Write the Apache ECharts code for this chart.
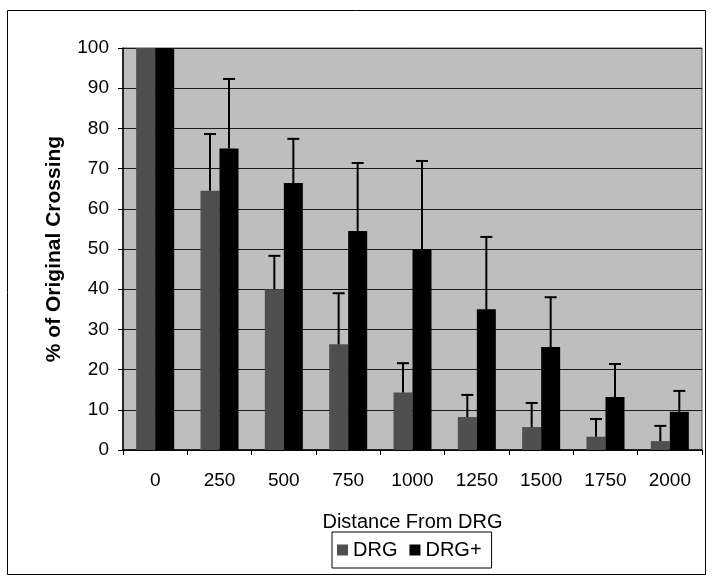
<!DOCTYPE html>
<html>
<head>
<meta charset="utf-8">
<script src="https://cdn.jsdelivr.net/npm/echarts@6/dist/echarts.min.js"></script>
<style>
  html, body { margin: 0; padding: 0; background: #fff; }
  #chart { width: 712px; height: 580px; }
</style>
</head>
<body>
<div id="chart"></div>
<script>
  // distances (categories)
  const distances = ['0', '250', '500', '750', '1000', '1250', '1500', '1750', '2000']
  // mean % of original crossing
  const drgValues = [100, 64.5, 40, 26.3, 14.3, 8.2, 5.7, 3.3, 2.2]
  const drgPlusValues = [100, 75, 66.4, 54.5, 50, 35, 25.6, 13.2, 9.5]
  // upper end of error bars (0 has none)
  const drgErrTop = [null, 78.6, 48.3, 39, 21.6, 13.7, 11.7, 7.7, 6]
  const drgPlusErrTop = [null, 92.3, 77.4, 71.4, 71.9, 53, 38, 21.4, 14.7]

  const font = 'Liberation Sans, Arial, sans-serif'
  const barW = 19

  function errData (vals, tops) {
    let res = []
    for (let i = 0; i < vals.length; i++) {
      if (tops[i] != null) res.push([i, vals[i], tops[i]])
    }
    return res
  }

  function errRender (offset) {
    return function (params, api) {
      const lo = api.coord([api.value(0), api.value(1)])
      const hi = api.coord([api.value(0), api.value(2)])
      const x = lo[0] + offset
      const style = { stroke: '#000', lineWidth: 2 }
      return {
        type: 'group',
        children: [
          { type: 'line', shape: { x1: x, y1: lo[1], x2: x, y2: hi[1] }, style: style },
          { type: 'line', shape: { x1: x - 6, y1: hi[1], x2: x + 6, y2: hi[1] }, style: style }
        ]
      }
    }
  }

  const chart = echarts.init(document.getElementById('chart'))
  chart.setOption({
    animation: false,
    backgroundColor: '#fff',
    graphic: [{
      type: 'rect',
      shape: { x: 7.5, y: 10.5, width: 698, height: 564 },
      style: { fill: null, stroke: '#000', lineWidth: 1 },
      z: -10
    }],
    grid: {
      left: 123,
      right: 10,
      top: 48,
      height: 402,
      show: true,
      backgroundColor: '#bebebe',
      borderColor: '#555',
      borderWidth: 1
    },
    legend: {
      bottom: 12,
      left: 332,
      data: ['DRG', 'DRG+'],
      icon: 'rect',
      itemWidth: 11,
      itemHeight: 11,
      itemGap: 12,
      padding: [8, 10, 8, 5],
      borderColor: '#000',
      borderWidth: 1,
      textStyle: { fontFamily: font, fontSize: 20, color: '#000' }
    },
    xAxis: {
      type: 'category',
      data: distances,
      name: 'Distance From DRG',
      nameLocation: 'middle',
      nameGap: 62,
      nameTextStyle: { fontFamily: font, fontSize: 20, color: '#000' },
      axisLine: { lineStyle: { color: '#000', width: 1.5 } },
      axisTick: { show: true, inside: false, length: 5, lineStyle: { color: '#000' } },
      axisLabel: { fontFamily: font, fontSize: 19, color: '#000', margin: 21 },
      splitLine: { show: false }
    },
    yAxis: {
      type: 'value',
      min: 0,
      max: 100,
      interval: 10,
      name: '% of Original Crossing',
      nameLocation: 'middle',
      nameGap: 58,
      nameTextStyle: { fontFamily: font, fontSize: 21, fontWeight: 'bold', color: '#000' },
      axisLine: { show: true, lineStyle: { color: '#000', width: 1.5 } },
      axisTick: { show: true, length: 5, lineStyle: { color: '#000' } },
      axisLabel: { fontFamily: font, fontSize: 19, color: '#000', margin: 14 },
      splitLine: { show: true, lineStyle: { color: '#1a1a1a', width: 1.2 } }
    },
    series: [
      {
        name: 'DRG',
        type: 'bar',
        data: drgValues,
        barWidth: barW,
        barGap: '0%',
        itemStyle: { color: '#4f4f4f' }
      },
      {
        name: 'DRG+',
        type: 'bar',
        data: drgPlusValues,
        barWidth: barW,
        barGap: '0%',
        itemStyle: { color: '#000' }
      },
      {
        type: 'custom',
        renderItem: errRender(-barW / 2),
        data: errData(drgValues, drgErrTop),
        encode: { x: 0, y: [1, 2] },
        z: 5
      },
      {
        type: 'custom',
        renderItem: errRender(barW / 2),
        data: errData(drgPlusValues, drgPlusErrTop),
        encode: { x: 0, y: [1, 2] },
        z: 5
      }
    ]
  })
</script>
</body>
</html>
